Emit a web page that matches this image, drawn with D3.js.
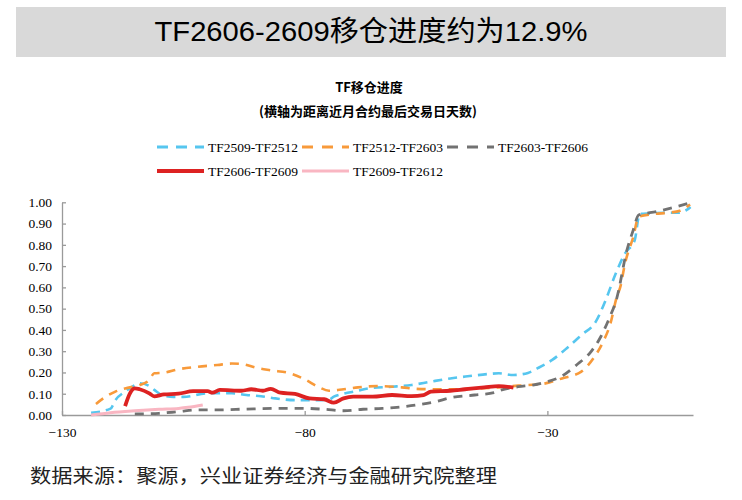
<!DOCTYPE html>
<html>
<head>
<meta charset="utf-8">
<script src="https://cdn.jsdelivr.net/npm/d3@7"></script>
<style>
  body { margin: 0; background: #fff; }
  svg { display: block; }
</style>
</head>
<body>
<svg width="742" height="500"></svg>
<script>
// texts
const title = 'TF2606-2609移仓进度约为12.9%';
const chartTitle = 'TF移仓进度';
const chartSubtitle = '(横轴为距离近月合约最后交易日天数)';
const source = '数据来源：聚源，兴业证券经济与金融研究院整理';

const seriesNames = ['TF2509-TF2512', 'TF2512-TF2603', 'TF2603-TF2606', 'TF2606-TF2609', 'TF2609-TF2612'];
const xTicks = [-130, -80, -30];
const yTicks = [0, 0.1, 0.2, 0.3, 0.4, 0.5, 0.6, 0.7, 0.8, 0.9, 1.0];

// [days to last trading day, roll progress]
const tf2509 = [
    [-124, 0.01], [-120, 0.03], [-119, 0.07], [-117, 0.11], [-115, 0.14], [-114, 0.149],
    [-112, 0.136], [-111, 0.118], [-109, 0.09], [-107, 0.085], [-105, 0.085], [-100, 0.102],
    [-95, 0.102], [-92, 0.094], [-89, 0.088], [-86, 0.078], [-82, 0.07], [-78, 0.07],
    [-75, 0.072], [-74, 0.086], [-72, 0.1], [-69, 0.114], [-67, 0.125], [-62, 0.133],
    [-58, 0.141], [-54, 0.157], [-50, 0.172], [-46, 0.183], [-42, 0.193], [-40, 0.196],
    [-37, 0.188], [-34, 0.198], [-32, 0.22], [-29, 0.259], [-26, 0.314], [-23, 0.376],
    [-20, 0.44], [-18, 0.54], [-16, 0.66], [-14, 0.76], [-12, 0.823], [-11, 0.945],
    [-9, 0.948], [-5, 0.951], [-3, 0.951], [-1.3, 0.964], [-0.5, 0.978]
];

const tf2512 = [
    [-123, 0.052], [-121, 0.086], [-119, 0.11], [-117, 0.125], [-114, 0.141], [-112, 0.165],
    [-111, 0.196], [-109, 0.199], [-106, 0.215], [-102, 0.227], [-98, 0.235], [-95, 0.242],
    [-93, 0.24], [-90, 0.222], [-87, 0.21], [-83, 0.196], [-80, 0.168], [-77, 0.13],
    [-75, 0.114], [-72, 0.121], [-69, 0.13], [-65, 0.136], [-60, 0.13], [-57, 0.123],
    [-53, 0.121], [-48, 0.121], [-44, 0.125], [-40, 0.13], [-36, 0.138], [-34, 0.141],
    [-31, 0.146], [-27, 0.172], [-23, 0.204], [-20.5, 0.267], [-18.5, 0.345], [-17, 0.431],
    [-15.7, 0.556], [-15, 0.6], [-14, 0.713], [-12.3, 0.838], [-11.2, 0.932], [-8, 0.945],
    [-5, 0.951], [-2.7, 0.96], [-0.6, 0.99]
];

const tf2603 = [
    [-115, 0.005], [-110, 0.008], [-106, 0.016], [-102, 0.024], [-98, 0.024], [-92, 0.028],
    [-86, 0.031], [-80, 0.031], [-76, 0.027], [-72, 0.02], [-68, 0.027], [-64, 0.031],
    [-61, 0.036], [-57, 0.047], [-53, 0.063], [-50, 0.081], [-45, 0.094], [-41, 0.105],
    [-40, 0.114], [-36, 0.133], [-33, 0.141], [-30, 0.157], [-27, 0.183], [-24, 0.235],
    [-21, 0.298], [-19, 0.368], [-17.4, 0.447], [-15.7, 0.55], [-13.6, 0.776], [-12.3, 0.87],
    [-11.2, 0.94], [-7.5, 0.956], [-4, 0.976], [-0.5, 0.998]
];

const tf2606 = [
    [-117, 0.042], [-116, 0.102], [-115, 0.125], [-114, 0.121], [-112, 0.102], [-111, 0.088],
    [-109, 0.097], [-106, 0.1], [-103, 0.112], [-100, 0.112], [-99, 0.105], [-97.5, 0.118],
    [-93, 0.114], [-91, 0.121], [-88.6, 0.114], [-87, 0.123], [-85, 0.105], [-82, 0.099],
    [-79, 0.078], [-76, 0.074], [-74, 0.058], [-72, 0.078], [-70, 0.086], [-66, 0.086],
    [-62, 0.094], [-58, 0.089], [-55.5, 0.094], [-54, 0.11], [-50, 0.114], [-47, 0.121],
    [-43, 0.13], [-40, 0.136], [-37, 0.129]
];

const tf2609 = [
    [-124, 0.0], [-120, 0.011], [-115, 0.02], [-110, 0.027], [-106, 0.031], [-104, 0.036],
    [-101, 0.047]
];

const seriesData = [tf2509, tf2512, tf2603, tf2606, tf2609];
const colors = ['#56c6ef', '#f89a3a', '#727272', '#dd2222', '#f9b6c2'];
const widths = [2.6, 2.6, 2.8, 3.8, 3];
const dashes = ['9,6', '9,7', '9,7', null, null];

const svg = d3.select('svg');

// title bar
svg.append('rect')
    .attr('x', 16).attr('y', 7)
    .attr('width', 710).attr('height', 50)
    .style('fill', '#d9d9d9');

svg.append('text')
    .attr('x', 371).attr('y', 41)
    .attr('text-anchor', 'middle')
    .attr('textLength', 433)
    .attr('lengthAdjust', 'spacingAndGlyphs')
    .style('font-family', '"Liberation Sans", "Noto Sans CJK SC", sans-serif')
    .style('font-size', '28px')
    .style('fill', '#000')
    .text(title);

// chart titles
svg.append('text')
    .attr('x', 369).attr('y', 92)
    .attr('text-anchor', 'middle')
    .style('font-family', '"Noto Sans CJK SC", sans-serif')
    .style('font-weight', 'bold')
    .style('font-size', '13px')
    .text(chartTitle);

svg.append('text')
    .attr('x', 368).attr('y', 116)
    .attr('text-anchor', 'middle')
    .style('font-family', '"Noto Sans CJK SC", sans-serif')
    .style('font-weight', 'bold')
    .style('font-size', '13px')
    .text(chartSubtitle);

// scales
const x = d3.scaleLinear().domain([-130, 0]).range([62, 693]);
const y = d3.scaleLinear().domain([0, 1]).range([415, 202.3]);

// axes
const yAxis = svg.append('g')
    .attr('transform', 'translate(62,0)')
    .call(d3.axisLeft(y).tickValues(yTicks).tickFormat(d3.format('.2f'))
        .tickSizeInner(-4).tickSizeOuter(0).tickPadding(10));

const xAxis = svg.append('g')
    .attr('transform', 'translate(0,415)')
    .call(d3.axisBottom(x).tickValues(xTicks)
        .tickSizeInner(-4).tickSizeOuter(0).tickPadding(12));

[yAxis, xAxis].forEach(g => {
    g.select('.domain').style('stroke', '#9a9a9a').style('stroke-width', 1.3);
    g.selectAll('.tick line').style('stroke', '#9a9a9a').style('stroke-width', 1.3);
    g.selectAll('.tick text')
        .style('font-family', '"Liberation Serif", "Times New Roman", serif')
        .style('font-size', '13.5px')
        .style('fill', '#000');
});

// lines
const line = d3.line()
    .x(d => x(d[0]))
    .y(d => y(d[1]))
    .curve(d3.curveMonotoneX);

svg.append('g')
    .selectAll('path')
    .data(seriesData)
    .join('path')
    .attr('d', line)
    .style('fill', 'none')
    .style('stroke', (d, i) => colors[i])
    .style('stroke-width', (d, i) => widths[i])
    .style('stroke-dasharray', (d, i) => dashes[i])
    .style('stroke-linejoin', 'round');

// legend
const legendPos = [[157, 147], [302, 147], [447, 147], [157, 171], [302, 171]];
const legendDash = ['11,8', '11,9', '11,9', null, null];

const legend = svg.append('g')
    .selectAll('g')
    .data(seriesNames)
    .join('g')
    .attr('transform', (d, i) => `translate(${legendPos[i][0]},${legendPos[i][1]})`);

legend.append('line')
    .attr('x1', 0).attr('x2', 47)
    .attr('y1', 0).attr('y2', 0)
    .style('stroke', (d, i) => colors[i])
    .style('stroke-width', (d, i) => i === 3 ? 4 : 3)
    .style('stroke-dasharray', (d, i) => legendDash[i]);

legend.append('text')
    .attr('x', 51).attr('y', 4.5)
    .style('font-family', '"Liberation Serif", "Times New Roman", serif')
    .style('font-size', '13.5px')
    .style('fill', '#000')
    .text(d => d);

// source
svg.append('text')
    .attr('x', 30).attr('y', 483)
    .attr('textLength', 467)
    .attr('lengthAdjust', 'spacingAndGlyphs')
    .style('font-family', '"Noto Sans CJK SC", sans-serif')
    .style('font-size', '19px')
    .style('fill', '#222')
    .text(source);
</script>
</body>
</html>
